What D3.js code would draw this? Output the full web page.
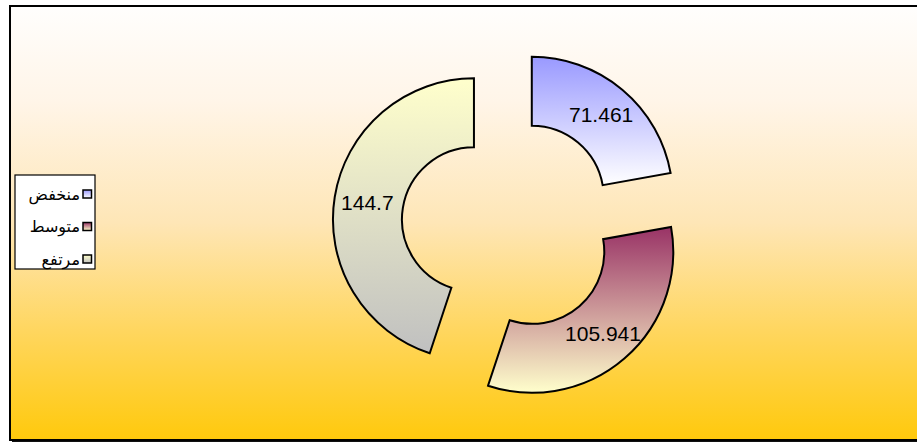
<!DOCTYPE html>
<html>
<head>
<meta charset="utf-8">
<script src="https://cdn.jsdelivr.net/npm/d3@7"></script>
<style>
  body { margin: 0; background: #fff; }
  svg { display: block; }
</style>
</head>
<body>
<div id="chart"></div>
<script>
// data
var categories = ["منخفض", "متوسط", "مرتفع"];
var values = [71.461, 105.941, 144.7];
var labels = ["71.461", "105.941", "144.7"];

// gradient colours per slice (top -> bottom)
var sliceColors = [["#9999ff", "#ffffff"], ["#993366", "#ffffcc"], ["#ffffcc", "#c0c0c0"]];

var width = 917, height = 446;
var cx = 509, cy = 225;
var outerR = 141, innerR = 72, explode = 35.5;

var svg = d3.select("#chart").append("svg")
    .attr("width", width)
    .attr("height", height);

var defs = svg.append("defs");

// background gradient
var bg = defs.append("linearGradient")
    .attr("id", "bgGrad")
    .attr("x1", 0).attr("y1", 0).attr("x2", 0).attr("y2", 1);
[[0, "#fffefd"], [0.22, "#fff5e8"], [0.5, "#fee6b6"], [0.75, "#ffd65e"], [1, "#ffc90c"]].forEach(function(s) {
    bg.append("stop").attr("offset", s[0]).attr("stop-color", s[1]);
});

sliceColors.forEach(function(c, i) {
    var g = defs.append("linearGradient")
        .attr("id", "slice" + i)
        .attr("x1", 0).attr("y1", 0).attr("x2", 0).attr("y2", 1);
    g.append("stop").attr("offset", 0).attr("stop-color", c[0]);
    g.append("stop").attr("offset", 1).attr("stop-color", c[1]);
});

// chart area frame with shadow
svg.append("rect")
    .attr("x", 12).attr("y", 8)
    .attr("width", width).attr("height", 434)
    .attr("fill", "#111");
svg.append("rect")
    .attr("x", 10).attr("y", 6)
    .attr("width", width).attr("height", 434)
    .attr("fill", "url(#bgGrad)")
    .attr("stroke", "#000")
    .attr("stroke-width", 2);

// donut
var pie = d3.pie().sort(null).value(function(d) { return d; });
var arcs = pie(values);

var arc = d3.arc().innerRadius(innerR).outerRadius(outerR);
var labelArc = d3.arc().innerRadius(108).outerRadius(108);

var slices = svg.append("g")
    .attr("transform", "translate(" + cx + "," + cy + ")")
    .selectAll("g")
    .data(arcs)
    .enter().append("g")
    .attr("transform", function(d) {
        var mid = (d.startAngle + d.endAngle) / 2;
        return "translate(" + (explode * Math.sin(mid)) + "," + (-explode * Math.cos(mid)) + ")";
    });

slices.append("path")
    .attr("d", arc)
    .attr("fill", function(d, i) { return "url(#slice" + i + ")"; })
    .attr("stroke", "#000")
    .attr("stroke-width", 2)
    .attr("stroke-linejoin", "miter");

slices.append("text")
    .attr("transform", function(d) { return "translate(" + labelArc.centroid(d) + ")"; })
    .attr("text-anchor", "middle")
    .attr("dy", "0.35em")
    .attr("font-family", "'Liberation Sans', Arial, sans-serif")
    .attr("font-size", 21)
    .attr("fill", "#000")
    .text(function(d, i) { return labels[i]; });

// legend
var legend = svg.append("g");
legend.append("rect")
    .attr("x", 15).attr("y", 175)
    .attr("width", 80).attr("height", 94)
    .attr("fill", "#fff")
    .attr("stroke", "#000")
    .attr("stroke-width", 1.2);

var item = legend.selectAll("g.item")
    .data(categories)
    .enter().append("g")
    .attr("class", "item")
    .attr("transform", function(d, i) { return "translate(0," + (194 + i * 32.5) + ")"; });

item.append("rect")
    .attr("x", 83).attr("y", -4)
    .attr("width", 8.5).attr("height", 8)
    .attr("fill", function(d, i) { return "url(#slice" + i + ")"; })
    .attr("stroke", "#000")
    .attr("stroke-width", 1.5);

item.append("text")
    .attr("x", 80)
    .attr("dy", "0.35em")
    .attr("text-anchor", "end")
    .attr("font-family", "'DejaVu Sans', Arial, sans-serif")
    .attr("font-size", 16)
    .attr("fill", "#000")
    .text(function(d) { return d; });
</script>
</body>
</html>
